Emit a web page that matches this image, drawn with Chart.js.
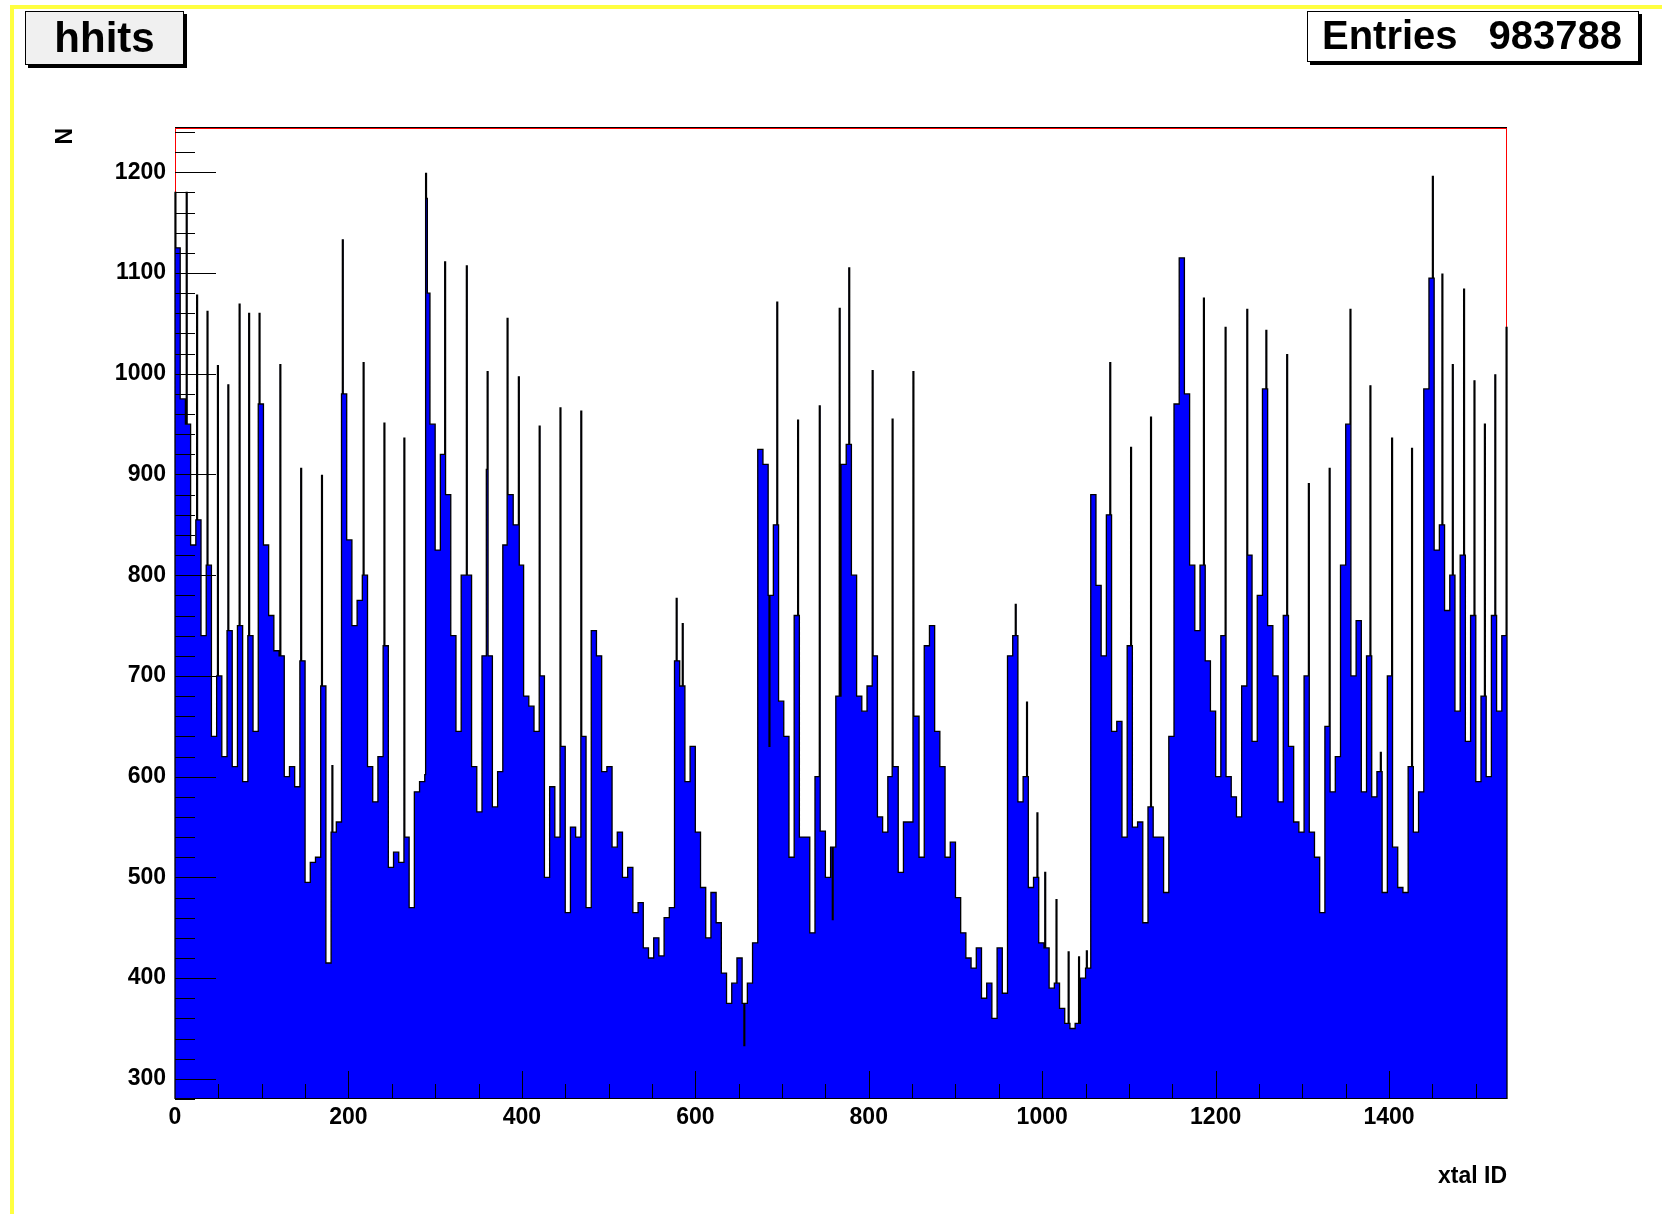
<html>
<head>
<script src="https://cdn.jsdelivr.net/npm/chart.js"></script>
<style>
  body { margin: 0; background: #fff; }
  canvas { display: block; }
</style>
</head>
<body>
<canvas id="hhits" width="1662" height="1214"></canvas>
<script>
// histogram "hhits": hits per crystal (xtal ID 0..1535)
const nBins = 1536;
const binsPerGroup = 6;

const groupValues = [
  1125, 975, 950, 830, 855, 740, 810, 640, 700, 620, 745, 610, 750, 595, 740, 645,
  970, 830, 760, 725, 720, 600, 610, 590, 715, 495, 515, 520, 690, 415, 545, 555,
  980, 835, 750, 775, 800, 610, 575, 620, 730, 510, 525, 515, 540, 470, 585, 595,
  1080, 950, 825, 920, 880, 740, 645, 800, 800, 610, 565, 720, 720, 570, 605, 830,
  880, 850, 810, 680, 670, 645, 700, 500, 590, 540, 630, 465, 550, 540, 640, 470,
  745, 720, 605, 610, 530, 545, 500, 510, 465, 475, 430, 420, 440, 422, 460, 470,
  715, 690, 595, 630, 545, 490, 440, 485, 455, 405, 375, 395, 420, 375, 395, 435,
  925, 910, 780, 850, 675, 640, 520, 760, 540, 540, 445, 600, 546, 500, 530, 680,
  910, 930, 800, 680, 665, 690, 720, 560, 545, 600, 610, 505, 555, 555, 660, 520,
  730, 750, 645, 610, 520, 535, 480, 445, 420, 410, 430, 380, 395, 360, 430, 385,
  720, 740, 575, 600, 490, 500, 435, 430, 390, 395, 370, 355, 350, 355, 400, 410,
  880, 790, 720, 860, 645, 655, 540, 730, 550, 555, 455, 570, 540, 540, 485, 640,
  970, 1115, 980, 810, 745, 810, 715, 665, 600, 740, 600, 580, 560, 690, 820, 635,
  780, 985, 750, 700, 575, 760, 630, 555, 545, 700, 545, 520, 465, 650, 585, 620,
  810, 950, 700, 755, 585, 720, 580, 605, 485, 700, 530, 490, 485, 610, 545, 585,
  985, 1095, 825, 850, 765, 800, 665, 820, 635, 760, 595, 680, 600, 760, 665, 740
];

// single crystals that stick out of their group (hot / cold channels)
const spikeBins = [
  0, 13, 25, 37, 49, 61, 74, 85, 97, 121,
  145, 169, 181, 193, 217, 241, 264, 288, 289, 290,
  311, 336, 359, 360, 383, 396, 420, 444, 468, 578,
  585, 656, 685, 694, 718, 743, 758, 766, 777, 804,
  827, 851, 969, 982, 994, 1003, 1016, 1030, 1042, 1051,
  1078, 1102, 1125, 1186, 1211, 1236, 1258, 1282, 1307, 1331,
  1355, 1378, 1390, 1403, 1426, 1450, 1461, 1473, 1486, 1498,
  1510, 1522, 1535
];
const spikeValues = [
  1180, 1180, 1078, 1062, 1008, 989, 1069, 1060, 1060, 1009,
  906, 899, 611, 1133, 1011, 951, 936, 602, 1199, 1174,
  1111, 1107, 905, 1002, 1055, 997, 948, 966, 963, 777,
  752, 333, 630, 1071, 954, 968, 458, 1065, 1105, 1003,
  955, 1002, 771, 674, 564, 505, 478, 426, 421, 427,
  1011, 927, 957, 1075, 1046, 1064, 1043, 1019, 891, 906,
  1064, 988, 624, 936, 926, 1196, 1099, 1009, 1084, 993,
  950, 999, 1046
];

const xTicks = [0, 200, 400, 600, 800, 1000, 1200, 1400];
const yTicks = [300, 400, 500, 600, 700, 800, 900, 1000, 1100, 1200];
const yMin = 280;
const yMax = 1244;
const histTitle = 'hhits';
const entries = 983788;

// per-bin contents
const counts = [];
for (let i = 0; i < nBins; i++) counts.push(groupValues[Math.floor(i / binsPerGroup)]);
spikeBins.forEach((b, k) => { counts[b] = spikeValues[k]; });

// step outline, closed down to the axis at both ends
const points = [{ x: 0, y: yMin }];
counts.forEach((c, i) => points.push({ x: i, y: c }));
points.push({ x: nBins, y: counts[nBins - 1] });
points.push({ x: nBins, y: yMin });

const fontFamily = "'Liberation Sans', Arial, Helvetica, sans-serif";

function box(ctx, x, y, w, h, fill) {
  ctx.fillStyle = '#000';
  ctx.fillRect(x + 3, y + 3, w, h);
  ctx.fillStyle = fill;
  ctx.fillRect(x, y, w, h);
  ctx.strokeStyle = '#000';
  ctx.lineWidth = 1;
  ctx.strokeRect(x + 0.5, y + 0.5, w - 1, h - 1);
}

const rootStyle = {
  id: 'rootStyle',
  beforeDraw(chart) {
    const ctx = chart.ctx;
    ctx.save();
    ctx.fillStyle = '#fff';
    ctx.fillRect(0, 0, chart.width, chart.height);
    ctx.fillStyle = '#ffff40';
    ctx.fillRect(10, 5, 4, chart.height - 5);
    ctx.fillRect(10, 5, chart.width - 10, 4);
    ctx.restore();
  },
  beforeDatasetsDraw(chart) {
    const { ctx, chartArea: a } = chart;
    ctx.save();
    ctx.strokeStyle = '#ff0000';
    ctx.lineWidth = 1;
    ctx.strokeRect(a.left + 0.5, a.top + 0.5, a.right - a.left - 1, a.bottom - a.top - 1);
    ctx.restore();
  },
  afterDatasetsDraw(chart) {
    const { ctx, chartArea: a, scales } = chart;
    ctx.save();
    ctx.strokeStyle = '#000';
    ctx.lineWidth = 1;
    ctx.beginPath();
    // top and bottom frame lines
    ctx.moveTo(a.left, a.top - 0.5); ctx.lineTo(a.right, a.top - 0.5);
    ctx.moveTo(a.left, a.bottom - 0.5); ctx.lineTo(a.right, a.bottom - 0.5);
    // y ticks, inside the frame
    for (let v = yMin; v <= yMax; v += 20) {
      const y = Math.round(scales.y.getPixelForValue(v)) + 0.5;
      const len = v % 100 === 0 ? 41 : 20;
      ctx.moveTo(a.left, y); ctx.lineTo(a.left + len, y);
    }
    // x ticks
    for (let v = 50; v <= nBins; v += 50) {
      const x = Math.round(scales.x.getPixelForValue(v)) + 0.5;
      const len = v % 200 === 0 ? 28 : 15;
      ctx.moveTo(x, a.bottom); ctx.lineTo(x, a.bottom - len);
    }
    ctx.stroke();
    ctx.restore();
  },
  afterDraw(chart) {
    const ctx = chart.ctx;
    ctx.save();
    box(ctx, 25, 11, 159, 54, '#f0f0f0');
    ctx.fillStyle = '#000';
    ctx.font = 'bold 42px ' + fontFamily;
    ctx.textAlign = 'center';
    ctx.textBaseline = 'alphabetic';
    ctx.fillText(histTitle, 104.5, 52);

    box(ctx, 1307, 11, 332, 51, '#fff');
    ctx.fillStyle = '#000';
    ctx.font = 'bold 40px ' + fontFamily;
    ctx.textAlign = 'left';
    ctx.fillText('Entries', 1322, 49);
    ctx.textAlign = 'right';
    ctx.fillText(String(entries), 1622, 49);
    ctx.restore();
  }
};

const tickFont = { family: fontFamily, weight: 'bold', size: 23 };

new Chart(document.getElementById('hhits'), {
  type: 'line',
  data: {
    datasets: [{
      data: points,
      stepped: 'before',
      fill: 'start',
      backgroundColor: '#0000ff',
      borderColor: '#000000',
      borderWidth: 1.3,
      pointRadius: 0,
      clip: false
    }]
  },
  options: {
    responsive: false,
    animation: false,
    devicePixelRatio: 1,
    parsing: false,
    events: [],
    layout: { padding: { left: 0, right: 155, top: 128, bottom: 0 } },
    plugins: {
      legend: { display: false },
      tooltip: { enabled: false },
      title: { display: false }
    },
    scales: {
      x: {
        type: 'linear',
        min: 0,
        max: nBins,
        afterBuildTicks: s => { s.ticks = xTicks.map(v => ({ value: v })); },
        afterFit: s => { s.height = 115; },
        grid: { display: false, drawTicks: false },
        border: { display: false },
        ticks: {
          color: '#000', font: tickFont, padding: 5, maxRotation: 0, autoSkip: false,
          callback: v => String(v)
        },
        title: {
          display: true, text: 'xtal ID', align: 'end', color: '#000',
          font: tickFont, padding: { top: 0, bottom: 24 }
        }
      },
      y: {
        type: 'linear',
        min: yMin,
        max: yMax,
        afterBuildTicks: s => { s.ticks = yTicks.map(v => ({ value: v })); },
        afterFit: s => { s.width = 175; },
        grid: { display: false, drawTicks: false },
        border: { display: false },
        ticks: { color: '#000', font: tickFont, padding: 9, autoSkip: false, callback: v => String(v) },
        title: {
          display: true, text: 'N', align: 'end', color: '#000',
          font: tickFont, padding: { top: 52, bottom: 0 }
        }
      }
    }
  },
  plugins: [rootStyle]
});
</script>
</body>
</html>
